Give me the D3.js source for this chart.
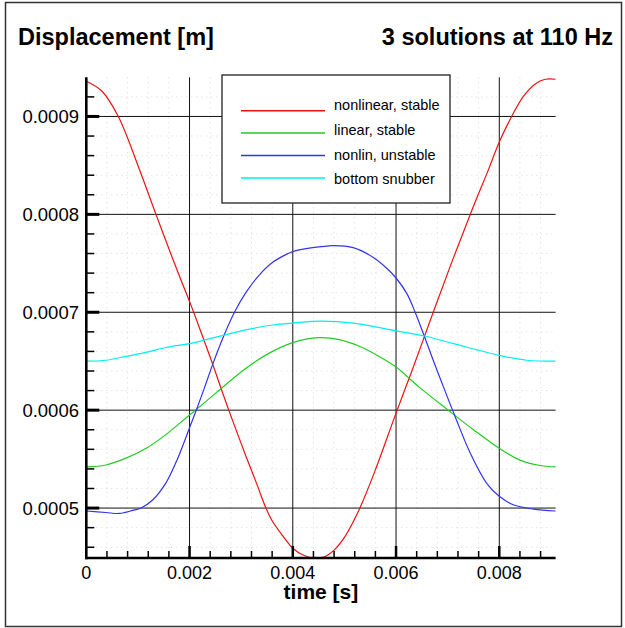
<!DOCTYPE html>
<html>
<head>
<meta charset="utf-8">
<script src="https://cdn.jsdelivr.net/npm/d3@7"></script>
<style>
  html, body { margin: 0; padding: 0; background: #fff; }
  svg { display: block; font-family: "Liberation Sans", Arial, sans-serif; }
</style>
</head>
<body>
<svg id="chart" width="625" height="628"></svg>
<script>
// Displacement over one period (110 Hz) for three solutions plus the snubber position.
// Each series: [time (s), displacement (m)]
const nonlinearStable = [
  [0, 0.000936], [0.0003, 0.000926], [0.00062, 0.0009], [0.001, 0.00085],
  [0.00135, 0.0008], [0.0017, 0.000751], [0.002, 0.000711], [0.00208, 0.0007],
  [0.0024, 0.000654], [0.00276, 0.0006], [0.0031, 0.000552], [0.0033, 0.000525],
  [0.00348, 0.0005], [0.0036, 0.000487], [0.0038, 0.000472], [0.004, 0.000459],
  [0.0042, 0.000452], [0.0044, 0.000449], [0.0046, 0.00045], [0.0048, 0.000457],
  [0.005, 0.00047], [0.0052, 0.000489], [0.0053, 0.0005], [0.0056, 0.000539],
  [0.006, 0.000597], [0.0063, 0.000639], [0.00672, 0.0007], [0.0071, 0.000754],
  [0.00746, 0.000803], [0.0078, 0.000847], [0.008, 0.000874], [0.00824, 0.0009],
  [0.00846, 0.00092], [0.00869, 0.000933], [0.00889, 0.000938], [0.00909, 0.000938]
];
const linearStable = [
  [0, 0.000542], [0.00038, 0.000544], [0.00077, 0.000551], [0.00116, 0.000561],
  [0.00154, 0.000575], [0.00193, 0.000592], [0.00232, 0.000609], [0.0027, 0.000626],
  [0.0031, 0.000643], [0.0035, 0.000657], [0.004, 0.000669], [0.0045, 0.000674],
  [0.0049, 0.000672], [0.0053, 0.000665], [0.0057, 0.000654], [0.006, 0.000644],
  [0.00646, 0.000623], [0.00701, 0.0006], [0.0075, 0.00058], [0.008, 0.000561],
  [0.0084, 0.000549], [0.00879, 0.0005435], [0.00909, 0.000542]
];
const nonlinUnstable = [
  [0, 0.000497], [0.00038, 0.0004955], [0.00064, 0.0004945], [0.0009, 0.0004976],
  [0.00106, 0.0005], [0.00129, 0.0005085], [0.00154, 0.0005255], [0.00174, 0.000547],
  [0.0019, 0.000568], [0.002, 0.000582], [0.00213, 0.0006], [0.00229, 0.000623],
  [0.00245, 0.000647], [0.00264, 0.000673], [0.00287, 0.0007], [0.00309, 0.00072],
  [0.00335, 0.000738], [0.00361, 0.000751], [0.00387, 0.000759], [0.004, 0.000762],
  [0.00426, 0.000765], [0.00455, 0.000767], [0.00479, 0.000768], [0.00517, 0.000766],
  [0.00556, 0.000756], [0.00582, 0.000745], [0.006, 0.000735], [0.00621, 0.000719],
  [0.00637, 0.0007], [0.00653, 0.000678], [0.00672, 0.000651], [0.00688, 0.000629],
  [0.00714, 0.000594], [0.00743, 0.000557], [0.00776, 0.000525], [0.008, 0.000512],
  [0.00827, 0.0005034], [0.00866, 0.000499], [0.00909, 0.000497]
];
const bottomSnubber = [
  [0, 0.00065], [0.00038, 0.000651], [0.00077, 0.000655], [0.00116, 0.000659],
  [0.00154, 0.000664], [0.002, 0.000668], [0.00232, 0.000672], [0.0027, 0.000677],
  [0.00309, 0.000682], [0.00361, 0.000687], [0.004, 0.000689], [0.00455, 0.000691],
  [0.00517, 0.000689], [0.006, 0.000681], [0.00653, 0.000676], [0.00711, 0.000668],
  [0.008, 0.000656], [0.00853, 0.000651], [0.00909, 0.00065]
];

const seriesNames = ["nonlinear, stable", "linear, stable", "nonlin, unstable", "bottom snubber"];
const seriesData = [nonlinearStable, linearStable, nonlinUnstable, bottomSnubber];
const seriesColors = ["#ee1111", "#22cc22", "#3333ee", "#00eeee"];

const xTicks = [0, 0.002, 0.004, 0.006, 0.008];
const xTickLabels = ["0", "0.002", "0.004", "0.006", "0.008"];
const yTicks = [0.0005, 0.0006, 0.0007, 0.0008, 0.0009];
const yTickLabels = ["0.0005", "0.0006", "0.0007", "0.0008", "0.0009"];
const xDomain = [0, 0.0090909];
const yDomain = [0.000449, 0.00094];

const svg = d3.select("#chart");
const plotL = 86.3, plotR = 555.6, plotT = 77.3, plotB = 558;

const x = d3.scaleLinear().domain(xDomain).range([plotL, plotR]);
const y = d3.scaleLinear().domain(yDomain).range([plotB, plotT]);

// outer frame
svg.append("rect")
  .attr("x", 5.5).attr("y", 2.5).attr("width", 616).attr("height", 624)
  .attr("fill", "none").attr("stroke", "#333").attr("stroke-width", 1.5);

// titles
svg.append("text").attr("x", 18).attr("y", 45)
  .attr("font-size", 23.5).attr("font-weight", "bold").text("Displacement [m]");
svg.append("text").attr("x", 613).attr("y", 45).attr("text-anchor", "end")
  .attr("font-size", 23.5).attr("font-weight", "bold").text("3 solutions at 110 Hz");

// minor grid (dotted)
const xMinor = d3.range(0, 0.00909, 0.0004).map(d => +d.toFixed(5)).filter(d => !xTicks.some(t => Math.abs(t - d) < 1e-7));
const yMinor = d3.range(0.00046, 0.00094, 0.00002).map(d => +d.toFixed(6)).filter(d => !yTicks.some(t => Math.abs(t - d) < 1e-9));
const grid = svg.append("g");
grid.selectAll(".mx").data(xMinor).join("line")
  .attr("x1", d => x(d)).attr("x2", d => x(d)).attr("y1", plotT).attr("y2", plotB)
  .attr("stroke", "#d8d8d8").attr("stroke-width", 1).attr("stroke-dasharray", "1,4");
grid.selectAll(".my").data(yMinor).join("line")
  .attr("x1", plotL).attr("x2", plotR).attr("y1", d => y(d)).attr("y2", d => y(d))
  .attr("stroke", "#d8d8d8").attr("stroke-width", 1).attr("stroke-dasharray", "1,4");

// major grid
grid.selectAll(".gx").data(xTicks.slice(1)).join("line")
  .attr("x1", d => x(d)).attr("x2", d => x(d)).attr("y1", plotT).attr("y2", plotB)
  .attr("stroke", "#111").attr("stroke-width", 1);
grid.selectAll(".gy").data(yTicks).join("line")
  .attr("x1", plotL).attr("x2", plotR).attr("y1", d => y(d)).attr("y2", d => y(d))
  .attr("stroke", "#111").attr("stroke-width", 1);

// curves
const line = d3.line().x(d => x(d[0])).y(d => y(d[1])).curve(d3.curveCatmullRom.alpha(0.5));
svg.append("g").selectAll("path").data(seriesData).join("path")
  .attr("d", line).attr("fill", "none")
  .attr("stroke", (d, i) => seriesColors[i]).attr("stroke-width", 1.2);

// legend
const lg = svg.append("g");
lg.append("rect").attr("x", 222).attr("y", 75).attr("width", 228).attr("height", 128)
  .attr("fill", "#fff").attr("stroke", "#222").attr("stroke-width", 1.3);
seriesNames.forEach((name, i) => {
  const ly = 110.7 + i * 22.4;
  lg.append("line").attr("x1", 241).attr("x2", 325).attr("y1", ly).attr("y2", ly)
    .attr("stroke", seriesColors[i]).attr("stroke-width", 1.5);
  lg.append("text").attr("x", 334).attr("y", 105 + i * 24.8)
    .attr("dominant-baseline", "central").attr("font-size", 14.5).text(name);
});

// axes: thick lines with inward major/minor ticks
const ax = svg.append("g");
ax.selectAll(".tmx").data(xMinor).join("line")
  .attr("x1", d => x(d)).attr("x2", d => x(d)).attr("y1", plotB).attr("y2", plotB - 7)
  .attr("stroke", "#000").attr("stroke-width", 1.5);
ax.selectAll(".tMx").data(xTicks.slice(1)).join("line")
  .attr("x1", d => x(d)).attr("x2", d => x(d)).attr("y1", plotB).attr("y2", plotB - 12)
  .attr("stroke", "#000").attr("stroke-width", 2.5);
ax.selectAll(".tmy").data(yMinor).join("line")
  .attr("x1", plotL).attr("x2", plotL + 8).attr("y1", d => y(d)).attr("y2", d => y(d))
  .attr("stroke", "#000").attr("stroke-width", 1.5);
ax.selectAll(".tMy").data(yTicks).join("line")
  .attr("x1", plotL).attr("x2", plotL + 13).attr("y1", d => y(d)).attr("y2", d => y(d))
  .attr("stroke", "#000").attr("stroke-width", 3);
ax.append("line").attr("x1", plotL - 1.2).attr("x2", plotR).attr("y1", plotB).attr("y2", plotB)
  .attr("stroke", "#000").attr("stroke-width", 2.4);
ax.append("line").attr("x1", plotL).attr("x2", plotL).attr("y1", plotT).attr("y2", plotB + 1.2)
  .attr("stroke", "#000").attr("stroke-width", 2.6);

// tick labels
ax.selectAll(".lx").data(xTicks).join("text")
  .attr("x", d => x(d)).attr("y", 578.5).attr("text-anchor", "middle")
  .attr("font-size", 18).text((d, i) => xTickLabels[i]);
ax.selectAll(".ly").data(yTicks).join("text")
  .attr("x", 79).attr("y", d => y(d)).attr("text-anchor", "end")
  .attr("dominant-baseline", "central").attr("font-size", 18.5).text((d, i) => yTickLabels[i]);

// axis title
svg.append("text").attr("x", (plotL + plotR) / 2).attr("y", 599).attr("text-anchor", "middle")
  .attr("font-size", 21).attr("font-weight", "bold").text("time [s]");
</script>
</body>
</html>
